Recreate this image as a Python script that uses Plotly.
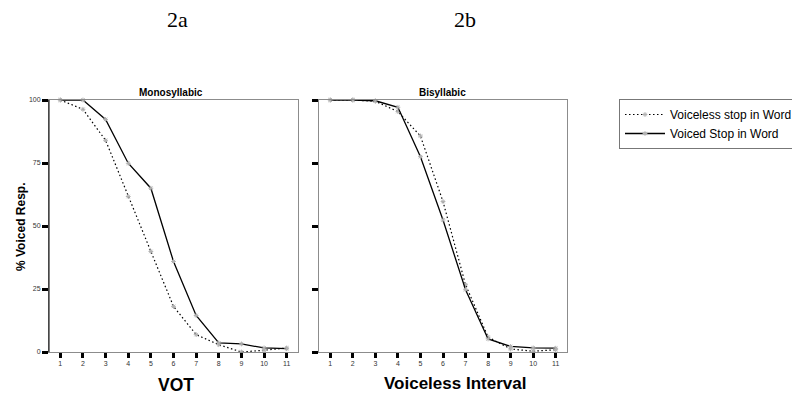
import plotly.graph_objects as go

vot_steps = [1, 2, 3, 4, 5, 6, 7, 8, 9, 10, 11]
mono_voiceless = [100, 96.3, 84, 61.7, 39.9, 18.1, 6.9, 2.9, 0, 0.7, 1.6]
mono_voiced = [100, 100, 92.3, 74.9, 65, 35.9, 14.5, 3.6, 3.2, 1.6, 1.3]
bi_voiceless = [100, 100, 99.5, 95.4, 85.7, 59.7, 26.7, 5.9, 1.2, 0.3, 0.9]
bi_voiced = [100, 100, 99.7, 97.1, 77.5, 52.4, 24.7, 5.2, 2.2, 1.6, 1.5]
y_ticks = [0, 25, 50, 75, 100]
series_names = ["Voiceless stop in Word", "Voiced Stop in Word"]

W, H = 792, 398
def px(x):
    return x / W
def py(y):
    return (H - y) / H

FONT = "Liberation Sans, Arial, sans-serif"
marker = dict(symbol="asterisk-open", size=4, color="#b0b0b0", line=dict(width=1, color="#b0b0b0"))
DOT = "1.5px,2.5px"

fig = go.Figure()
fig.add_trace(go.Scatter(x=vot_steps, y=mono_voiceless, mode="lines+markers", name=series_names[0],
                         line=dict(color="black", width=1.2, dash=DOT), marker=marker,
                         xaxis="x", yaxis="y", cliponaxis=False))
fig.add_trace(go.Scatter(x=vot_steps, y=mono_voiced, mode="lines+markers", name=series_names[1],
                         line=dict(color="black", width=1.3), marker=marker,
                         xaxis="x", yaxis="y", cliponaxis=False))
fig.add_trace(go.Scatter(x=vot_steps, y=bi_voiceless, mode="lines+markers", name=series_names[0],
                         line=dict(color="black", width=1.2, dash=DOT), marker=marker,
                         xaxis="x2", yaxis="y2", showlegend=False, cliponaxis=False))
fig.add_trace(go.Scatter(x=vot_steps, y=bi_voiced, mode="lines+markers", name=series_names[1],
                         line=dict(color="black", width=1.3), marker=marker,
                         xaxis="x2", yaxis="y2", showlegend=False, cliponaxis=False))

xcommon = dict(range=[0.5, 11.5], tickmode="array", tickvals=vot_steps, ticktext=[str(v) for v in vot_steps],
               ticks="outside", ticklen=5, tickwidth=3, tickcolor="black",
               showline=True, linecolor="#8c8c8c", linewidth=1, mirror=True,
               showgrid=False, zeroline=False,
               tickfont=dict(family=FONT, size=7, color="#333"))
ycommon = dict(range=[0, 100], tickmode="array", tickvals=y_ticks,
               ticks="outside", ticklen=6, tickwidth=3, tickcolor="black",
               showline=True, linecolor="#8c8c8c", linewidth=1, mirror=True,
               showgrid=False, zeroline=False,
               tickfont=dict(family=FONT, size=7, color="#333"))

def ann(text, x, y, size, family=FONT, angle=0):
    return dict(text=text, x=px(x), y=py(y), xref="paper", yref="paper", showarrow=False,
                xanchor="center", yanchor="middle", textangle=angle,
                font=dict(family=family, size=size, color="black"))

SERIF = "Liberation Serif, Times New Roman, serif"

fig.update_layout(
    width=W, height=H,
    margin=dict(l=0, r=0, t=0, b=0, autoexpand=False),
    paper_bgcolor="white", plot_bgcolor="white",
    showlegend=True,
    xaxis=dict(domain=[px(49), px(298)], anchor="y", **xcommon),
    yaxis=dict(domain=[py(352), py(100)], anchor="x", **ycommon),
    xaxis2=dict(domain=[px(319), px(567)], anchor="y2", **xcommon),
    yaxis2=dict(domain=[py(352), py(100)], anchor="x2", showticklabels=False, **ycommon),
    legend=dict(x=px(619), y=py(99), xanchor="left", yanchor="top",
                bordercolor="#777", borderwidth=1, bgcolor="white",
                font=dict(family=FONT, size=12, color="black"),
                tracegroupgap=0, itemwidth=40),
    annotations=[
        ann("2a", 177, 19, 22, SERIF),
        ann("2b", 465, 19, 22, SERIF),
        ann("<b>Monosyllabic</b>", 171, 93, 10),
        ann("<b>Bisyllabic</b>", 442, 93, 10),
        ann("<b>VOT</b>", 176, 385, 17.5),
        ann("<b>Voiceless Interval</b>", 455, 383, 17),
        ann("<b>% Voiced Resp.</b>", 21, 227, 12, angle=-90),
    ],
    shapes=[
        dict(type="line", xref="x domain", yref="y domain", x0=0, x1=0, y0=0, y1=1,
             line=dict(color="black", width=1)),
    ],
)

fig.write_html("out.html", config={"displayModeBar": False},
               post_script="document.body.style.margin='0';document.body.style.overflow='hidden';")
